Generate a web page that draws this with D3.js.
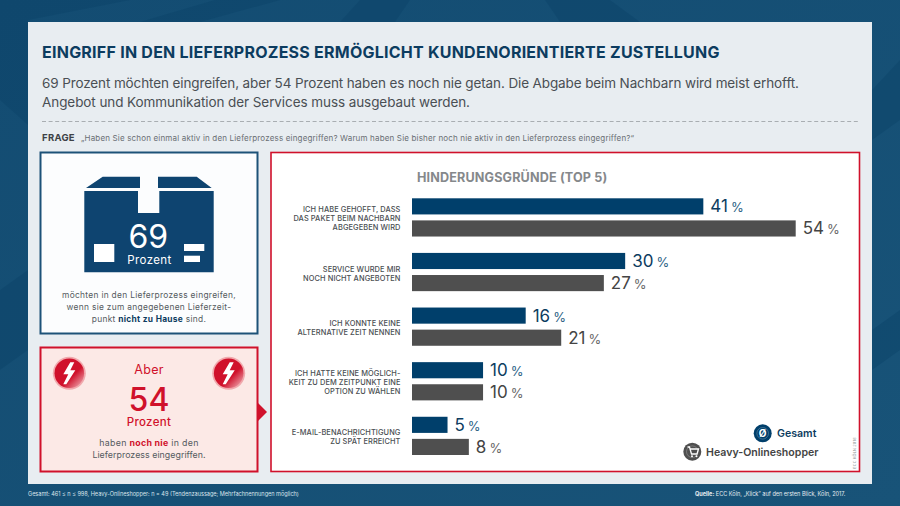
<!DOCTYPE html>
<html>
<head>
<meta charset="utf-8">
<script src="https://d3js.org/d3.v7.min.js"></script>
<style>
html, body { margin: 0; padding: 0; background: #1a5278; }
svg { display: block; }
text { font-family: Inter, "Open Sans", sans-serif; }
</style>
</head>
<body>
<svg id="chart" width="900" height="506"></svg>
<script>
var categories = [
  ["ICH HABE GEHOFFT, DASS", "DAS PAKET BEIM NACHBARN", "ABGEGEBEN WIRD"],
  ["SERVICE WURDE MIR", "NOCH NICHT ANGEBOTEN"],
  ["ICH KONNTE KEINE", "ALTERNATIVE ZEIT NENNEN"],
  ["ICH HATTE KEINE MÖGLICH-", "KEIT ZU DEM ZEITPUNKT EINE", "OPTION ZU WÄHLEN"],
  ["E-MAIL-BENACHRICHTIGUNG", "ZU SPÄT ERREICHT"]
];
var seriesNames = ["Gesamt", "Heavy-Onlineshopper"];
var gesamtValues = [41, 30, 16, 10, 5];
var heavyValues = [54, 27, 21, 10, 8];

var navy = "#003f6b", gray = "#4f4f4f", red = "#d0112b", textGray = "#555b60";
var svg = d3.select("#chart");
var defs = svg.append("defs");

var bgGrad = defs.append("linearGradient").attr("id", "bg").attr("x1", 0).attr("y1", 0).attr("x2", 1).attr("y2", 1);
bgGrad.append("stop").attr("offset", "0%").attr("stop-color", "#134c72");
bgGrad.append("stop").attr("offset", "100%").attr("stop-color", "#185378");

var gloss = defs.append("linearGradient").attr("id", "gloss").attr("x1", 0).attr("y1", 0).attr("x2", 1).attr("y2", 1);
gloss.append("stop").attr("offset", "0%").attr("stop-color", "#d0112b");
gloss.append("stop").attr("offset", "60%").attr("stop-color", "#d0112b");
gloss.append("stop").attr("offset", "100%").attr("stop-color", "#f3c4c9");

// background with the faint keyboard keys
svg.append("rect").attr("width", 900).attr("height", 506).attr("fill", "url(#bg)");
var keys = [
  "M0,100 L28,125 L28,20 L130,0 L0,0 Z",
  "M140,22 L215,0 L280,0 L200,22 Z",
  "M340,22 L360,0 L410,0 L395,22 Z",
  "M560,22 L545,0 L610,0 L640,22 Z",
  "M872,90 L900,60 L900,120 L872,140 Z",
  "M872,330 L900,310 L900,350 L872,370 Z",
  "M0,290 L28,270 L28,350 L0,370 Z"
];
svg.selectAll("path.key").data(keys).enter().append("path")
  .attr("class", "key").attr("d", d => d).attr("fill", "#0a4268").attr("opacity", 0.45);

// main panel
svg.append("rect").attr("x", 28).attr("y", 22).attr("width", 844).attr("height", 462).attr("fill", "#e8edf1");

function label(x, y, str, size, color, weight, anchor, spacing) {
  return svg.append("text").attr("x", x).attr("y", y).text(str)
    .attr("font-size", size).attr("fill", color)
    .attr("font-weight", weight || 400)
    .attr("text-anchor", anchor || "start")
    .attr("letter-spacing", spacing || 0);
}

label(42, 58, "EINGRIFF IN DEN LIEFERPROZESS ERMÖGLICHT KUNDENORIENTIERTE ZUSTELLUNG", 16, "#0c3c60", 700, "start", 0.24);
label(42, 87.5, "69 Prozent möchten eingreifen, aber 54 Prozent haben es noch nie getan. Die Abgabe beim Nachbarn wird meist erhofft.", 13.5, "#4a4f54")
  .attr("textLength", 757).attr("lengthAdjust", "spacing");
label(42, 106.5, "Angebot und Kommunikation der Services muss ausgebaut werden.", 13.5, "#4a4f54")
  .attr("textLength", 428).attr("lengthAdjust", "spacing");
svg.append("line").attr("x1", 42).attr("x2", 858).attr("y1", 121.5).attr("y2", 121.5)
  .attr("stroke", "#a9aeb2").attr("stroke-dasharray", "4 2.6");
label(42, 141, "FRAGE", 9.5, "#3d4246", 700, "start", 0.3);
label(81, 141, "„Haben Sie schon einmal aktiv in den Lieferprozess eingegriffen? Warum haben Sie bisher noch nie aktiv in den Lieferprozess eingegriffen?“", 8, "#6a6f74", 400, "start", 0.17);

// left top box
svg.append("rect").attr("x", 40.5).attr("y", 152.5).attr("width", 217).attr("height", 181)
  .attr("fill", "#fcfdfe").attr("stroke", "#1d5278").attr("stroke-width", 2);
svg.append("path").attr("fill", "#0e4470")
  .attr("d", "M84.3,191 H138 V213 H159.3 V191 H213.7 V272.3 H84.3 Z M86,188 L102.7,176.7 H140 V188 Z M158,188 V176.7 H196.7 L211.7,188 Z");
svg.append("rect").attr("x", 94).attr("y", 244).attr("width", 20.3).attr("height", 18).attr("fill", "#fff");
svg.append("rect").attr("x", 184).attr("y", 244).attr("width", 20.3).attr("height", 7).attr("fill", "#fff");
svg.append("rect").attr("x", 184).attr("y", 255.7).attr("width", 16).attr("height", 6.3).attr("fill", "#fff");
label(148.3, 247.7, "69", 32, "#fff", 400, "middle");
label(149.5, 263.7, "Prozent", 11.5, "#fff", 400, "middle", 0.4);
label(149, 297.7, "möchten in den Lieferprozess eingreifen,", 8.4, textGray, 400, "middle", 0.3);
label(149, 309.7, "wenn sie zum angegebenen Lieferzeit-", 8.4, textGray, 400, "middle", 0.3);
var t3 = label(149, 321.7, "punkt ", 8.4, textGray, 400, "middle", 0.3);
t3.append("tspan").attr("font-weight", 700).attr("fill", "#0c3c60").text("nicht zu Hause");
t3.append("tspan").text(" sind.");

// left bottom box
svg.append("rect").attr("x", 40.5).attr("y", 347.5).attr("width", 217).attr("height", 124)
  .attr("fill", "#fce9e6").attr("stroke", red).attr("stroke-width", 2);
svg.append("path").attr("d", d3.line()([[257, 402], [267, 412], [257, 422]])).attr("fill", red);
[69.3, 228.7].forEach(function (cx) {
  svg.append("circle").attr("cx", cx).attr("cy", 373.3).attr("r", 16.5).attr("fill", "#f1a9ad");
  svg.append("circle").attr("cx", cx).attr("cy", 373.3).attr("r", 14.8).attr("fill", "url(#gloss)");
  svg.append("path").attr("fill", "#fff")
    .attr("transform", "translate(" + cx + ",373.3)")
    .attr("d", "M1,-11 L-6,1 L-1,1 L-6,11 L-3,11 L6,-3 L1,-3 L5,-11 Z");
});
label(149, 374.3, "Aber", 12.5, red, 400, "middle", 0.3);
label(149, 410.7, "54", 32, red, 500, "middle");
label(149, 425.7, "Prozent", 11.5, red, 500, "middle", 0.3);
var t4 = label(149, 446, "haben ", 8.8, textGray, 400, "middle", 0.3);
t4.append("tspan").attr("font-weight", 700).attr("fill", red).text("noch nie");
t4.append("tspan").text(" in den");
label(149, 458, "Lieferprozess eingegriffen.", 8.8, textGray, 400, "middle", 0.05);

// chart box
svg.append("rect").attr("x", 271).attr("y", 152.5).attr("width", 588.5).attr("height", 319)
  .attr("fill", "#fff").attr("stroke", red).attr("stroke-width", 1.6);
label(417, 182, "HINDERUNGSGRÜNDE (TOP 5)", 12.6, "#85888b", 700, "start", 0.15);

var y = d3.scaleBand().domain(d3.range(categories.length)).range([198.3, 455]).paddingInner(0.3).paddingOuter(0);
var ySeries = d3.scaleBand().domain(seriesNames).range([0, y.bandwidth()]).paddingInner(0.27);
var x = d3.scaleLinear().domain([0, 54]).range([412, 795.7]);

var rows = categories.map(function (c, i) {
  return { i: i, lines: c, values: [gesamtValues[i], heavyValues[i]] };
});
var group = svg.selectAll("g.row").data(rows).enter().append("g")
  .attr("class", "row").attr("transform", d => "translate(0," + y(d.i) + ")");

group.selectAll("rect").data(d => d.values.map((v, j) => ({ v: v, s: seriesNames[j], j: j }))).enter().append("rect")
  .attr("x", x(0)).attr("y", d => ySeries(d.s))
  .attr("width", d => x(d.v) - x(0)).attr("height", ySeries.bandwidth())
  .attr("fill", d => d.j === 0 ? navy : gray);

var vals = group.selectAll("text.val").data(d => d.values.map((v, j) => ({ v: v, s: seriesNames[j], j: j }))).enter().append("text")
  .attr("class", "val")
  .attr("x", d => x(d.v) + 7)
  .attr("y", d => ySeries(d.s) + ySeries.bandwidth() / 2 + 6)
  .attr("font-size", 17)
  .attr("fill", d => d.j === 0 ? "#0c3c60" : "#444");
vals.append("tspan").text(d => d.v);
vals.append("tspan").attr("dx", 3).attr("font-size", 13)
  .attr("fill", d => d.j === 0 ? "#2b5f85" : "#666").text("%");

group.each(function (d) {
  var n = d.lines.length;
  d3.select(this).selectAll("text.cat").data(d.lines).enter().append("text")
    .attr("class", "cat")
    .attr("x", 400.5)
    .attr("y", (l, k) => y.bandwidth() / 2 + 4 + (k - (n - 1) / 2) * 9)
    .attr("text-anchor", "end")
    .attr("font-size", 7.4)
    .attr("font-weight", 500)
    .attr("letter-spacing", 0.1)
    .attr("fill", "#4a4e52")
    .text(l => l);
});

// legend
var legend = [
  { name: seriesNames[0], cx: 762.7, cy: 433.3, tx: 777, c: navy, tc: "#0c3c60", sym: "Ø" },
  { name: seriesNames[1], cx: 692.3, cy: 451.7, tx: 706, c: gray, tc: "#444", sym: "" }
];
legend.forEach(function (l) {
  svg.append("circle").attr("cx", l.cx).attr("cy", l.cy).attr("r", 9).attr("fill", l.c);
  svg.append("circle").attr("cx", l.cx).attr("cy", l.cy).attr("r", 5.8).attr("fill", "none").attr("stroke", "#fff").attr("stroke-width", 0.6).attr("opacity", 0.4);
  label(l.cx, l.cy + 3.6, l.sym, 10, "#fff", 700, "middle");
  label(l.tx, l.cy + 4, l.name, 10.6, l.tc, 600, "start", 0);
});
// shopping cart in the heavy shopper badge
svg.append("path").attr("fill", "none").attr("stroke", "#fff").attr("stroke-width", 1.3)
  .attr("d", "M687.5,447 H689.5 L691.5,454 H697 L698.5,449 H690.5");
svg.append("circle").attr("cx", 692).attr("cy", 456.3).attr("r", 1).attr("fill", "#fff");
svg.append("circle").attr("cx", 696.5).attr("cy", 456.3).attr("r", 1).attr("fill", "#fff");

label(0, 0, "ECC KÖLN 2018", 3.8, "#8a8f93", 400, "middle", 0.2)
  .attr("transform", "translate(855.5,453) rotate(-90)");

// footer
label(28, 495.5, "Gesamt: 461 ≤ n ≤ 998, Heavy-Onlineshopper: n = 49 (Tendenzaussage; Mehrfachnennungen möglich)", 5.55, "#dbe5ec", 400, "start", 0);
var src = label(695, 495.5, "Quelle:", 5.55, "#e6edf2", 700, "start", 0);
src.append("tspan").attr("font-weight", 400).text(" ECC Köln, „Klick“ auf den ersten Blick, Köln, 2017.");
</script>
</body>
</html>
